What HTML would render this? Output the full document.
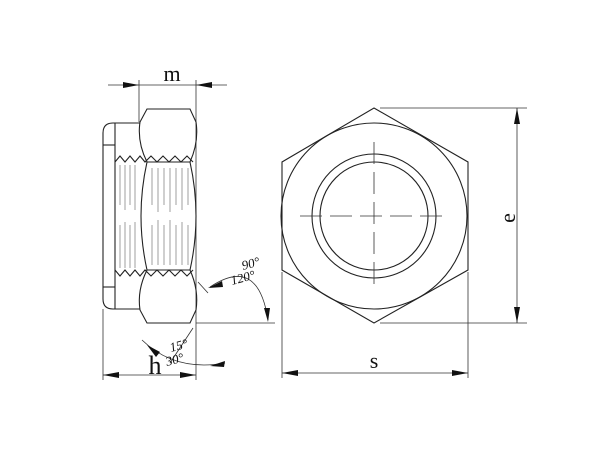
<!DOCTYPE html>
<html><head><style>html,body{margin:0;padding:0;background:#fff}svg{display:block}</style></head>
<body>
<svg width="600" height="450" viewBox="0 0 600 450" xmlns="http://www.w3.org/2000/svg" font-family="Liberation Serif, serif">
<g fill="none" stroke="#222" stroke-width="1.1">
<polygon points="374,108 468,162 468,270 374,323 282,270 282,162"/>
<circle cx="374" cy="216" r="93"/>
<circle cx="374" cy="216" r="62"/>
<circle cx="374" cy="216" r="54"/>
</g>
<g stroke="#333" stroke-width="0.8" stroke-dasharray="22,8">
<line x1="300" y1="216" x2="449" y2="216"/>
<line x1="374" y1="142" x2="374" y2="290"/>
</g>
<g stroke="#333" stroke-width="0.8" fill="none">
<line x1="380" y1="108" x2="527" y2="108"/>
<line x1="380" y1="323" x2="527" y2="323"/>
<line x1="517" y1="108" x2="517" y2="323"/>
<line x1="282" y1="272" x2="282" y2="378"/>
<line x1="468" y1="272" x2="468" y2="378"/>
<line x1="282" y1="373" x2="468" y2="373"/>
<line x1="108" y1="85" x2="227" y2="85"/>
<line x1="139" y1="80" x2="139" y2="122"/>
<line x1="196" y1="80" x2="196" y2="380"/>
<line x1="103" y1="309" x2="103" y2="380"/>
<line x1="103" y1="375" x2="196" y2="375"/>
<line x1="196" y1="323" x2="275" y2="323"/>
<line x1="198" y1="282" x2="208" y2="293"/>
<path d="M210,287 Q258,255 268,320"/>
<line x1="193" y1="328" x2="170" y2="363"/>
<path d="M142,340 Q175,372 225,363"/>
</g>
<g fill="#111">
<polygon points="517,108 514,124 520,124"/>
<polygon points="517,323 514,307 520,307"/>
<polygon points="282,373 298,370 298,376"/>
<polygon points="468,373 452,370 452,376"/>
<polygon points="139,85 123,82 123,88"/>
<polygon points="196,85 212,82 212,88"/>
<polygon points="103,375 119,372 119,378"/>
<polygon points="196,375 180,372 180,378"/>
<polygon points="208,288 222,281 223,287"/>
<polygon points="268,322 264,308 270,308"/>
<polygon points="147,345 160,352 156,357"/>
<polygon points="210,366 225,361 224,367"/>
</g>
<g fill="none" stroke="#222" stroke-width="1.1">
<path d="M140,123 L113,123 Q103,123 103,133 L103,299 Q103,309 113,309 L140,309"/>
<line x1="115" y1="123" x2="115" y2="309"/>
<line x1="103" y1="145" x2="115" y2="145"/>
<line x1="103" y1="287" x2="115" y2="287"/>
<path d="M147,109 L190,109 L196,122 Q199,142 190,162 L147,162 Q137,142 140,122 Z"/>
<path d="M147,323 L190,323 L196,310 Q199,290 190,270 L147,270 Q137,290 140,310 Z"/>
<path d="M147,162 Q135,216 147,270"/>
<path d="M190,162 Q202,216 190,270"/>
<path d="M115,162 l5,-6 l5,6 l5,-6 l5,6 l5,-6 l5,6 l6,-6 l6,6 l6,-6 l6,6 l6,-6 l6,6 l6,-6 l6,6"/>
<path d="M115,270 l5,6 l5,-6 l5,6 l5,-6 l5,6 l5,-6 l6,6 l6,-6 l6,6 l6,-6 l6,6 l6,-6 l6,6 l6,-6"/>
</g>
<g stroke="#888" stroke-width="0.8">
<path d="M120,165V205M125,165V210M130,165V205M135,165V210M152,168V205M158,168V212M164,168V205M170,168V212M176,168V205M182,168V210M188,168V205
M120,225V268M125,222V268M130,225V268M135,222V268M152,225V265M158,220V265M164,225V265M170,220V265M176,225V265M182,222V265M188,225V265"/>
</g>
<g fill="#111">
<text x="172" y="81" font-size="22" text-anchor="middle">m</text>
<text x="374" y="368" font-size="22" text-anchor="middle">s</text>
<text x="155" y="374" font-size="26" text-anchor="middle">h</text>
<text transform="translate(515,218) rotate(-90)" font-size="22" text-anchor="middle">e</text>
<text transform="translate(243,270) rotate(-15)" font-size="13" font-style="italic">90°</text>
<text transform="translate(232,285) rotate(-15)" font-size="13" font-style="italic">120°</text>
<text transform="translate(171,352) rotate(-15)" font-size="13" font-style="italic">15°</text>
<text transform="translate(167,366) rotate(-15)" font-size="13" font-style="italic">30°</text>
</g>
</svg>
</body></html>
